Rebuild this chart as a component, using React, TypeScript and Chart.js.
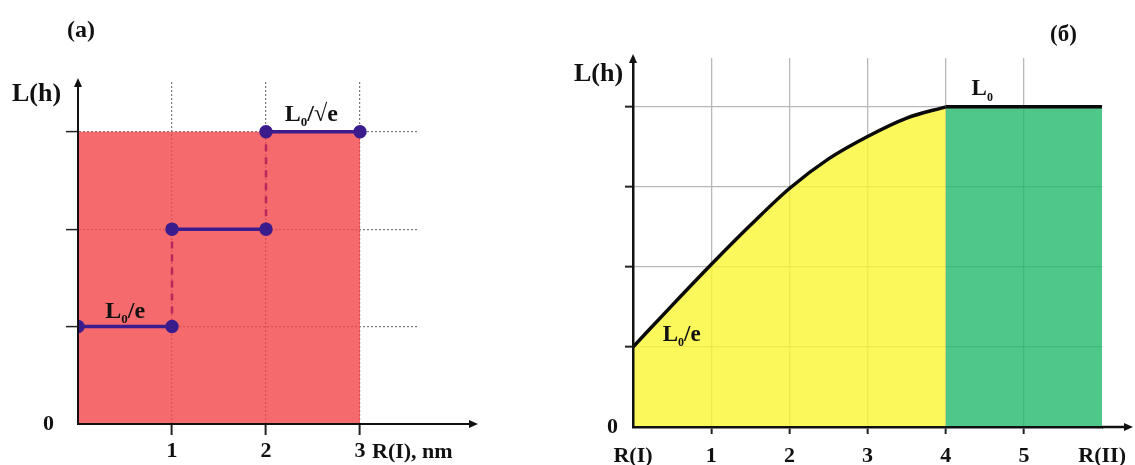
import React, { useEffect, useRef } from 'react';
import { Chart, registerables } from 'chart.js';

Chart.register(...registerables);

// ---------- data ----------
// panel (a): step function L(h) vs R(I), nm
const LEFT_X = [0, 1, 2, 3];
const LEFT_LEVELS = [1, 2, 3];
const LEFT_X_LABELS = ['', '1', '2', '3'];
const LEFT_Y_LABELS = ['0', '', '', ''];
const LEFT_FILL_TOP = 3;

// panel (б): smooth L(h) from R(I) to R(II)
const CURVE_X = [0, 0.5, 1, 1.5, 2, 2.5, 3, 3.5, 4];
const CURVE_Y = [1, 1.52, 2.03, 2.52, 2.98, 3.35, 3.63, 3.86, 4];
const PLATEAU_X = [4, 6];
const PLATEAU_Y = [4, 4];
const RIGHT_X_LABELS = ['R(I)', '1', '2', '3', '4', '5', 'R(II)'];
const RIGHT_Y_LABELS = ['0', '', '', '', ''];

const SERIF = '"Liberation Serif", "DejaVu Serif", serif';
const TICK_FONT = { family: SERIF, size: 22, weight: 'bold' as const };

type Part = { t: string; size: number; dy?: number };
function drawParts(ctx: CanvasRenderingContext2D, x: number, baseline: number, parts: Part[]) {
  let cx = x;
  for (const p of parts) {
    ctx.font = `bold ${p.size}px ${SERIF}`;
    ctx.fillText(p.t, cx, baseline + (p.dy || 0));
    cx += ctx.measureText(p.t).width;
  }
}

function arrowRight(ctx: CanvasRenderingContext2D, x: number, y: number) {
  ctx.beginPath();
  ctx.moveTo(x, y);
  ctx.lineTo(x - 9, y - 4);
  ctx.lineTo(x - 9, y + 4);
  ctx.closePath();
  ctx.fill();
}
function arrowUp(ctx: CanvasRenderingContext2D, x: number, y: number) {
  ctx.beginPath();
  ctx.moveTo(x, y);
  ctx.lineTo(x - 4, y + 9);
  ctx.lineTo(x + 4, y + 9);
  ctx.closePath();
  ctx.fill();
}

const leftDecor = {
  id: 'leftDecor',
  afterDraw(chart: any) {
    const { ctx, chartArea: a, scales } = chart;
    const x = scales.x;
    const y = scales.y;
    const y0 = y.getPixelForValue(0);
    ctx.save();
    ctx.strokeStyle = '#111';
    ctx.fillStyle = '#111';
    ctx.lineWidth = 2;
    ctx.beginPath();
    ctx.moveTo(a.right, y0);
    ctx.lineTo(472, y0);
    ctx.stroke();
    arrowRight(ctx, 478, y0);
    arrowUp(ctx, x.getPixelForValue(0), a.top - 4);
    ctx.textBaseline = 'alphabetic';
    ctx.textAlign = 'left';
    drawParts(ctx, x.getPixelForValue(0.29), y.getPixelForValue(LEFT_LEVELS[0]) - 9, [
      { t: 'L', size: 24 },
      { t: '0', size: 13, dy: 5 },
      { t: '/e', size: 24 },
    ]);
    drawParts(ctx, x.getPixelForValue(2.2), y.getPixelForValue(LEFT_LEVELS[2]) - 11, [
      { t: 'L', size: 24 },
      { t: '0', size: 13, dy: 5 },
      { t: '/√e', size: 24 },
    ]);
    drawParts(ctx, 12, 101, [{ t: 'L(h)', size: 26 }]);
    drawParts(ctx, 67, 37, [{ t: '(a)', size: 24 }]);
    drawParts(ctx, x.getPixelForValue(3) + 12, 458, [{ t: 'R(I), nm', size: 22 }]);
    ctx.restore();
  },
};

const rightDecor = {
  id: 'rightDecor',
  afterDraw(chart: any) {
    const { ctx, chartArea: a, scales } = chart;
    const x = scales.x;
    const y = scales.y;
    const y0 = y.getPixelForValue(0);
    ctx.save();
    ctx.strokeStyle = '#111';
    ctx.fillStyle = '#111';
    ctx.lineWidth = 2.5;
    ctx.beginPath();
    ctx.moveTo(a.right, y0);
    ctx.lineTo(566, y0);
    ctx.stroke();
    arrowRight(ctx, 573, y0);
    arrowUp(ctx, x.getPixelForValue(0), a.top - 4);
    ctx.textBaseline = 'alphabetic';
    ctx.textAlign = 'left';
    drawParts(ctx, x.getPixelForValue(4.33), y.getPixelForValue(PLATEAU_Y[0]) - 12, [
      { t: 'L', size: 23 },
      { t: '0', size: 12, dy: 6 },
    ]);
    drawParts(ctx, x.getPixelForValue(0.38), y.getPixelForValue(CURVE_Y[0]) - 6, [
      { t: 'L', size: 23 },
      { t: '0', size: 12, dy: 5 },
      { t: '/e', size: 23 },
    ]);
    drawParts(ctx, 14, 81, [{ t: 'L(h)', size: 26 }]);
    drawParts(ctx, 490, 41, [{ t: '(б)', size: 23 }]);
    ctx.restore();
  },
};

function LeftChart() {
  const ref = useRef<HTMLCanvasElement>(null);
  useEffect(() => {
    if (!ref.current) return;
    const fill = [
      { x: LEFT_X[0], y: LEFT_FILL_TOP },
      { x: LEFT_X[LEFT_X.length - 1], y: LEFT_FILL_TOP },
    ];
    const datasets: any[] = [
      {
        data: fill,
        fill: 'origin',
        backgroundColor: 'rgba(242,69,71,0.8)',
        borderWidth: 0,
        pointRadius: 0,
        order: 5,
      },
    ];
    for (let i = 0; i < LEFT_LEVELS.length; i++) {
      datasets.push({
        data: [
          { x: LEFT_X[i], y: LEFT_LEVELS[i] },
          { x: LEFT_X[i + 1], y: LEFT_LEVELS[i] },
        ],
        borderColor: '#3a1c8c',
        borderWidth: 3.5,
        pointRadius: 5,
        pointBackgroundColor: '#3a1c8c',
        pointBorderColor: '#3a1c8c',
        fill: false,
        order: 1,
      });
      if (i < LEFT_LEVELS.length - 1) {
        datasets.push({
          data: [
            { x: LEFT_X[i + 1], y: LEFT_LEVELS[i] },
            { x: LEFT_X[i + 1], y: LEFT_LEVELS[i + 1] },
          ],
          borderColor: '#b8285e',
          borderWidth: 2.5,
          borderDash: [7, 6],
          pointRadius: 0,
          fill: false,
          order: 2,
        });
      }
    }
    const chart = new Chart(ref.current, {
      type: 'line',
      data: { datasets },
      plugins: [leftDecor],
      options: {
        animation: false,
        responsive: false,
        events: [],
        layout: { padding: { left: 0, top: 82, right: 142, bottom: 0 } },
        plugins: { legend: { display: false }, tooltip: { enabled: false } },
        scales: {
          x: {
            type: 'linear',
            min: 0,
            max: 3.617,
            afterFit: (s: any) => {
              s.height = 41;
            },
            ticks: {
              stepSize: 1,
              includeBounds: false,
              autoSkip: false,
              maxRotation: 0,
              padding: 3,
              color: '#111',
              font: TICK_FONT,
              callback: (v: any) => LEFT_X_LABELS[v] ?? '',
            },
            grid: {
              color: (c: any) => (c.tick && c.tick.value === 0 ? 'rgba(0,0,0,0)' : '#7a7a7a'),
              tickColor: (c: any) => (c.tick && c.tick.value === 0 ? 'rgba(0,0,0,0)' : '#222'),
              tickLength: 11,
              lineWidth: 1.2,
              tickWidth: 2,
            },
            border: { display: true, color: '#111', width: 2, dash: [2, 2], z: 1 },
          },
          y: {
            type: 'linear',
            min: 0,
            max: 3.51,
            afterFit: (s: any) => {
              s.width = 78;
            },
            ticks: {
              stepSize: 1,
              includeBounds: false,
              padding: 12,
              color: '#111',
              font: TICK_FONT,
              callback: (v: any) => LEFT_Y_LABELS[v] ?? '',
            },
            grid: {
              color: (c: any) => (c.tick && c.tick.value === 0 ? 'rgba(0,0,0,0)' : '#7a7a7a'),
              tickColor: (c: any) => (c.tick && c.tick.value === 0 ? 'rgba(0,0,0,0)' : '#222'),
              tickLength: 12,
              lineWidth: 1.2,
              tickWidth: 1.5,
            },
            border: { display: true, color: '#111', width: 2, dash: [2, 2], z: 1 },
          },
        },
      } as any,
    });
    return () => chart.destroy();
  }, []);
  return (
    <canvas
      ref={ref}
      width={560}
      height={465}
      style={{ position: 'absolute', left: 0, top: 0, width: 560, height: 465 }}
    />
  );
}

function RightChart() {
  const ref = useRef<HTMLCanvasElement>(null);
  useEffect(() => {
    if (!ref.current) return;
    const curve = CURVE_X.map((x, i) => ({ x, y: CURVE_Y[i] }));
    const plateau = PLATEAU_X.map((x, i) => ({ x, y: PLATEAU_Y[i] }));
    const chart = new Chart(ref.current, {
      type: 'line',
      data: {
        datasets: [
          {
            data: curve,
            fill: 'origin',
            backgroundColor: 'rgba(249,246,49,0.8)',
            borderColor: '#0a0a0a',
            borderWidth: 3.5,
            pointRadius: 0,
            cubicInterpolationMode: 'monotone',
            order: 2,
          },
          {
            data: plateau,
            fill: 'origin',
            backgroundColor: 'rgba(36,185,109,0.8)',
            borderColor: '#0a0a0a',
            borderWidth: 3.5,
            pointRadius: 0,
            order: 1,
          },
        ],
      },
      plugins: [rightDecor],
      options: {
        animation: false,
        responsive: false,
        events: [],
        layout: { padding: { left: 0, top: 58, right: 28, bottom: 0 } },
        plugins: { legend: { display: false }, tooltip: { enabled: false } },
        scales: {
          x: {
            type: 'linear',
            min: 0,
            max: 6,
            afterFit: (s: any) => {
              s.height = 38;
            },
            ticks: {
              stepSize: 1,
              includeBounds: false,
              autoSkip: false,
              maxRotation: 0,
              padding: 9,
              color: '#111',
              font: TICK_FONT,
              callback: (v: any) => RIGHT_X_LABELS[v] ?? '',
            },
            grid: {
              color: (c: any) =>
                c.tick && (c.tick.value === 0 || c.tick.value === 6) ? 'rgba(0,0,0,0)' : '#b8b8b8',
              tickColor: (c: any) =>
                c.tick && (c.tick.value === 0 || c.tick.value === 6) ? 'rgba(0,0,0,0)' : '#222',
              tickLength: 7,
              lineWidth: 1.3,
              tickWidth: 2,
            },
            border: { display: true, color: '#111', width: 2.5, z: 1 },
          },
          y: {
            type: 'linear',
            min: 0,
            max: 4.61,
            afterFit: (s: any) => {
              s.width = 73;
            },
            ticks: {
              stepSize: 1,
              includeBounds: false,
              padding: 7,
              color: '#111',
              font: TICK_FONT,
              callback: (v: any) => RIGHT_Y_LABELS[v] ?? '',
            },
            grid: {
              color: (c: any) => (c.tick && c.tick.value === 0 ? 'rgba(0,0,0,0)' : '#b8b8b8'),
              tickColor: (c: any) => (c.tick && c.tick.value === 0 ? 'rgba(0,0,0,0)' : '#222'),
              tickLength: 8,
              lineWidth: 1.3,
              tickWidth: 2,
            },
            border: { display: true, color: '#111', width: 2.5, z: 1 },
          },
        },
      } as any,
    });
    return () => chart.destroy();
  }, []);
  return (
    <canvas
      ref={ref}
      width={575}
      height={465}
      style={{ position: 'absolute', left: 560, top: 0, width: 575, height: 465 }}
    />
  );
}

export default function App() {
  return (
    <div
      style={{
        position: 'fixed',
        left: 0,
        top: 0,
        width: 1135,
        height: 465,
        background: '#fff',
        overflow: 'hidden',
      }}
    >
      <LeftChart />
      <RightChart />
    </div>
  );
}
